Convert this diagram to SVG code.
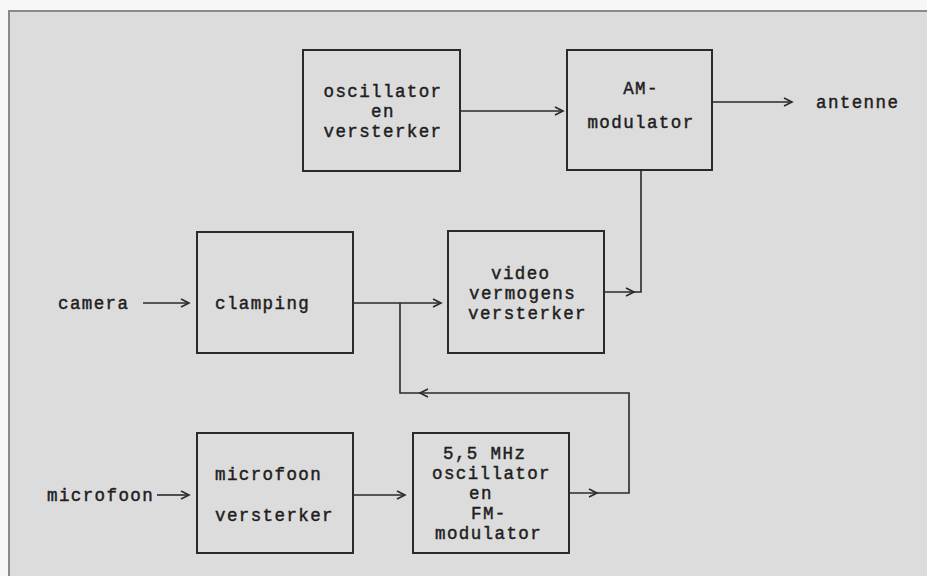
<svg xmlns="http://www.w3.org/2000/svg" width="927" height="576" viewBox="0 0 927 576">
  <style>
    .box { fill: none; stroke: #2a2a2a; stroke-width: 2; }
    .ln { fill: none; stroke: #2a2a2a; stroke-width: 1.6; }
    .hd { fill: none; stroke: #2a2a2a; stroke-width: 1.6; stroke-linejoin: miter; }
    text { font-family: "Liberation Mono", "Courier New", monospace; font-size: 17.5px; letter-spacing: 1.4px; fill: #1e1e1e; stroke: #1e1e1e; stroke-width: 0.45; }
    .c { text-anchor: middle; }
  </style>
  <rect x="0" y="0" width="927" height="576" fill="#f7f7f7"/>
  <rect x="9" y="11" width="930" height="580" fill="#dcdcdc" stroke="#8a8a8a" stroke-width="2"/>

  <g id="connectors">
    <path class="ln" d="M460,111 H563"/>
    <polyline class="hd" points="555,107 563,111 555,115"/>
    <path class="ln" d="M712,102 H792"/>
    <polyline class="hd" points="784,98 792,102 784,106"/>
    <path class="ln" d="M143,303 H189"/>
    <polyline class="hd" points="181,299 189,303 181,307"/>
    <path class="ln" d="M353,303 H441"/>
    <polyline class="hd" points="433,299 441,303 433,307"/>
    <path class="ln" d="M604,292 H641 V170"/>
    <polyline class="hd" points="626,288 634,292 626,296"/>
    <path class="ln" d="M157,495 H189"/>
    <polyline class="hd" points="181,491 189,495 181,499"/>
    <path class="ln" d="M353,495 H405"/>
    <polyline class="hd" points="397,491 405,495 397,499"/>
    <path class="ln" d="M569,493 H629 V393 H400 V303"/>
    <polyline class="hd" points="589,489 597,493 589,497"/>
    <polyline class="hd" points="428,389 420,393 428,397"/>
  </g>

  <g id="oscillator">
    <rect class="box" x="303" y="50" width="157" height="121"/>
    <text class="c" x="383" y="97">oscillator</text>
    <text class="c" x="383" y="117">en</text>
    <text class="c" x="383" y="137">versterker</text>
  </g>

  <g id="am-modulator">
    <rect class="box" x="567" y="50" width="145" height="120"/>
    <text class="c" x="641" y="94">AM-</text>
    <text class="c" x="641" y="128">modulator</text>
  </g>

  <g id="antenne">
    <text x="816" y="108">antenne</text>
  </g>

  <g id="camera">
    <text x="58" y="309">camera</text>
  </g>

  <g id="clamping">
    <rect class="box" x="197" y="232" width="156" height="121"/>
    <text x="215" y="309">clamping</text>
  </g>

  <g id="video">
    <rect class="box" x="448" y="231" width="156" height="122"/>
    <text x="491" y="279">video</text>
    <text x="469" y="299">vermogens</text>
    <text x="468" y="319">versterker</text>
  </g>

  <g id="microfoon-in">
    <text x="47" y="501">microfoon</text>
  </g>

  <g id="microfoon-versterker">
    <rect class="box" x="197" y="433" width="156" height="120"/>
    <text x="215" y="480">microfoon</text>
    <text x="215" y="521">versterker</text>
  </g>

  <g id="fm-oscillator">
    <rect class="box" x="413" y="433" width="156" height="120"/>
    <text x="443" y="459">5,5 MHz</text>
    <text x="432" y="479">oscillator</text>
    <text x="469" y="499">en</text>
    <text x="471" y="519">FM-</text>
    <text x="435" y="539">modulator</text>
  </g>
</svg>
